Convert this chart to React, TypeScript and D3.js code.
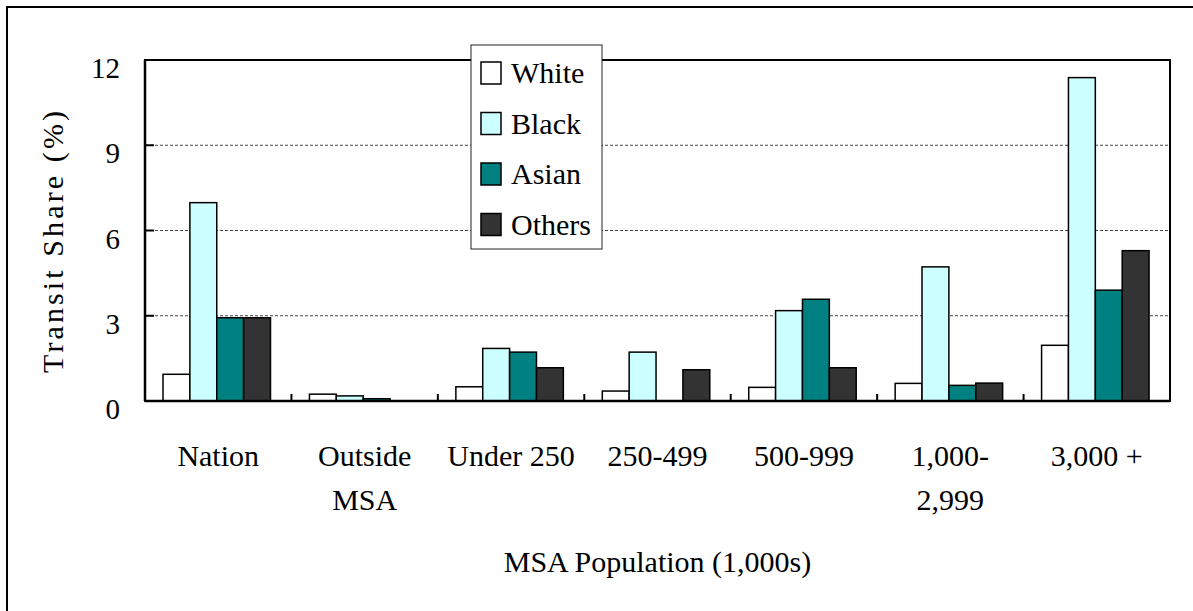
import * as React from "react";
import * as d3 from "d3";

const CATEGORIES = [
  ["Nation"],
  ["Outside", "MSA"],
  ["Under 250"],
  ["250-499"],
  ["500-999"],
  ["1,000-", "2,999"],
  ["3,000 +"],
];
const SERIES = ["White", "Black", "Asian", "Others"];
const COLORS = ["#FFFFFF", "#CCFFFF", "#008080", "#333333"];

const WHITE = [0.94, 0.24, 0.5, 0.35, 0.48, 0.62, 1.96];
const BLACK = [6.98, 0.18, 1.85, 1.72, 3.18, 4.72, 11.38];
const ASIAN = [2.93, 0.08, 1.72, 0, 3.58, 0.55, 3.9];
const OTHERS = [2.93, 0, 1.17, 1.1, 1.17, 0.63, 5.29];
const VALUES = [WHITE, BLACK, ASIAN, OTHERS];

const Y_TICKS = [0, 3, 6, 9, 12];
const GRID_TICKS = [3, 6, 9];

const FONT = "Liberation Serif, Tinos, Times New Roman, DejaVu Serif, serif";

export default function App() {
  const [width, height] = [1193, 611];
  const plot = { left: 145, right: 1170, top: 60, bottom: 401 };

  const x0 = d3
    .scaleBand<number>()
    .domain(CATEGORIES.map((d, i) => i))
    .range([plot.left, plot.right])
    .padding(0);
  const bw = x0.bandwidth();
  const x1 = d3
    .scaleBand<number>()
    .domain(SERIES.map((d, i) => i))
    .range([bw * 0.123, bw * 0.857])
    .padding(0);
  const y = d3.scaleLinear().domain([0, 12]).range([plot.bottom, plot.top]);

  const legend = { x: 471, y: 45, w: 131, h: 204 };

  return (
    <svg
      width={width}
      height={height}
      style={{ position: "absolute", left: 0, top: 0, background: "#fff", fontFamily: FONT }}
    >
      <rect x={7} y={7} width={1220} height={640} fill="#fff" stroke="#000" strokeWidth={2} />

      {/* grid */}
      {GRID_TICKS.map((t) => (
        <line
          key={t}
          x1={plot.left}
          x2={plot.right}
          y1={y(t)}
          y2={y(t)}
          stroke="#444"
          strokeWidth={1}
          strokeDasharray="3,2"
        />
      ))}

      {/* bars */}
      {CATEGORIES.map((c, ci) => (
        <g key={ci} transform={`translate(${x0(ci)},0)`}>
          {SERIES.map((s, si) => {
            const v = VALUES[si][ci];
            if (v <= 0) return null;
            return (
              <rect
                key={s}
                x={x1(si)}
                y={y(v)}
                width={x1.bandwidth()}
                height={y(0) - y(v)}
                fill={COLORS[si]}
                stroke="#000"
                strokeWidth={1.5}
              />
            );
          })}
        </g>
      ))}

      {/* plot frame */}
      <rect
        x={plot.left}
        y={plot.top}
        width={plot.right - plot.left}
        height={plot.bottom - plot.top}
        fill="none"
        stroke="#000"
        strokeWidth={2}
      />
      <line x1={plot.left} x2={plot.right} y1={plot.bottom} y2={plot.bottom} stroke="#000" strokeWidth={2.5} />
      <line x1={plot.left} x2={plot.left} y1={plot.top} y2={plot.bottom} stroke="#000" strokeWidth={2.5} />

      {/* y ticks */}
      {Y_TICKS.map((t) => (
        <g key={t}>
          <line x1={plot.left} x2={plot.left + 9} y1={y(t)} y2={y(t)} stroke="#000" strokeWidth={2} />
          <text x={plot.left - 25} y={y(t) + 18} textAnchor="end" fontSize={29}>
            {t}
          </text>
        </g>
      ))}

      {/* x ticks */}
      {CATEGORIES.slice(1).map((c, i) => (
        <line
          key={i}
          x1={x0(i + 1)}
          x2={x0(i + 1)}
          y1={plot.bottom}
          y2={plot.bottom - 7}
          stroke="#000"
          strokeWidth={2}
        />
      ))}

      {/* category labels */}
      {CATEGORIES.map((c, ci) => (
        <text key={ci} textAnchor="middle" fontSize={30}>
          {c.map((line, li) => (
            <tspan key={li} x={(x0(ci) as number) + bw / 2} y={466 + li * 44}>
              {line}
            </tspan>
          ))}
        </text>
      ))}

      {/* axis titles */}
      <text x={(plot.left + plot.right) / 2} y={572} textAnchor="middle" fontSize={30}>
        MSA Population (1,000s)
      </text>
      <text
        transform="translate(63,242) rotate(-90)"
        textAnchor="middle"
        fontSize={30}
        textLength={262}
        lengthAdjust="spacing"
      >
        Transit Share (%)
      </text>

      {/* legend */}
      <rect x={legend.x} y={legend.y} width={legend.w} height={legend.h} fill="#fff" stroke="#222" strokeWidth={1} />
      {SERIES.map((s, si) => (
        <g key={s} transform={`translate(${legend.x + 10},${legend.y + 17 + si * 50.5})`}>
          <rect width={20} height={22} fill={COLORS[si]} stroke="#000" strokeWidth={1.5} />
          <text x={30} y={21} fontSize={30}>
            {s}
          </text>
        </g>
      ))}
    </svg>
  );
}
